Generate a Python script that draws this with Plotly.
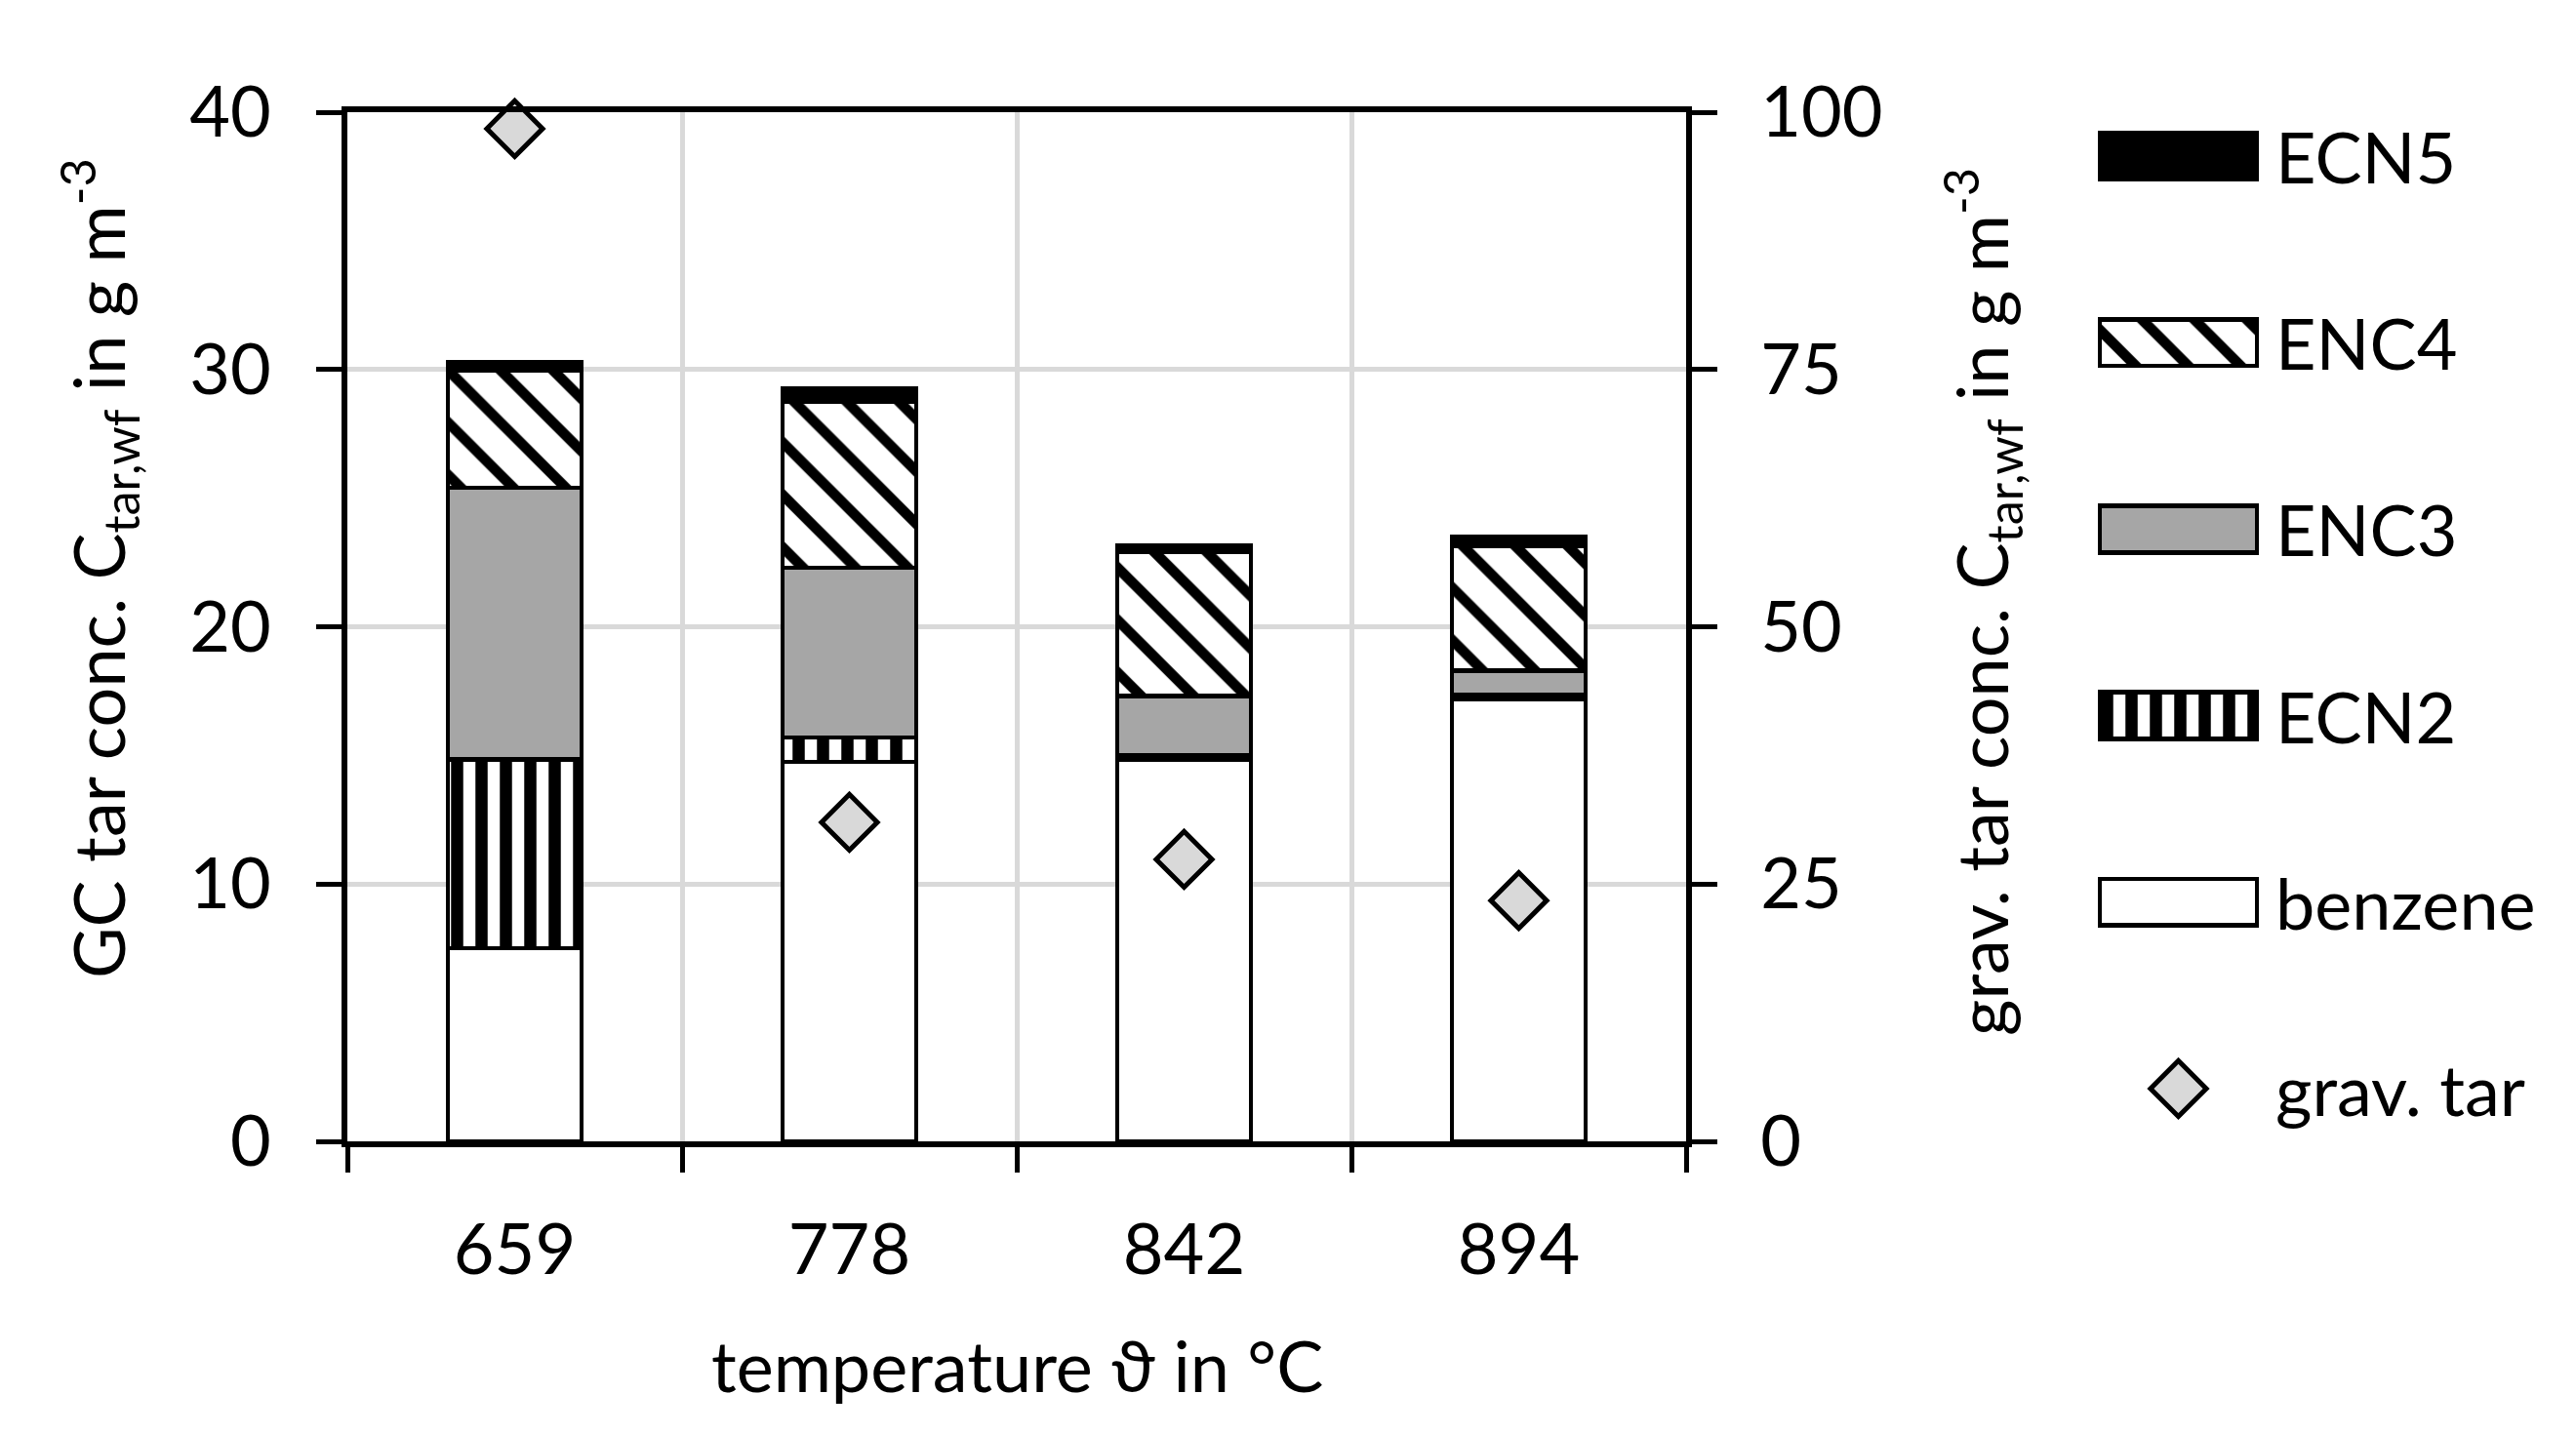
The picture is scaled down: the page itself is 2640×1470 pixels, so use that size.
"""Stacked GC tar fractions per temperature, with gravimetric tar on a second axis."""
import plotly.graph_objects as go

# data
temperatures = ["659", "778", "842", "894"]
benzene = [7.5, 14.75, 14.85, 17.2]
ecn2 = [7.35, 0.95, 0.15, 0.15]
enc3 = [10.55, 6.6, 2.3, 0.95]
enc4 = [4.55, 6.45, 5.6, 4.85]
ecn5 = [0.35, 0.5, 0.25, 0.35]
grav_tar = [98.4, 31.0, 27.4, 23.4]

gc_ticks = [0, 10, 20, 30, 40]
grav_ticks = [0, 25, 50, 75, 100]
legend_order = ["ECN5", "ENC4", "ENC3", "ECN2", "benzene", "grav. tar"]

W, H = 2640, 1470
FONT = dict(family="Lato, 'Noto Sans', sans-serif", size=72, color="black")
OUTLINE = dict(color="black", width=4.5)


def px_x(x):
    return x / W


def px_y(y):
    return 1 - y / H


styles = {
    "benzene": dict(color="white", line=OUTLINE),
    "ECN2": dict(color="white", line=OUTLINE,
                 pattern=dict(shape="|", size=25, solidity=0.5,
                              fgcolor="black", bgcolor="white")),
    "ENC3": dict(color="#a6a6a6", line=OUTLINE),
    "ENC4": dict(color="white", line=OUTLINE,
                 pattern=dict(shape="\\", size=38, solidity=0.28,
                              fgcolor="black", bgcolor="white")),
    "ECN5": dict(color="black", line=OUTLINE),
}
diamond = dict(symbol="diamond", size=44, color="#d9d9d9",
               line=dict(color="black", width=5))

stack = [("benzene", benzene), ("ECN2", ecn2), ("ENC3", enc3),
         ("ENC4", enc4), ("ECN5", ecn5)]

fig = go.Figure()

for name, values in stack:
    fig.add_trace(go.Bar(
        x=temperatures, y=values, name=name, width=0.4,
        marker=styles[name], xaxis="x", yaxis="y", showlegend=False))

fig.add_trace(go.Scatter(
    x=temperatures, y=grav_tar, name="grav. tar", mode="markers",
    marker=diamond, xaxis="x", yaxis="y2", cliponaxis=False,
    showlegend=False))

# hand-made legend: wide swatches on their own small axis pair
legend_cats = legend_order[::-1]
for name in legend_order[:-1]:
    fig.add_trace(go.Bar(
        x=[1], y=[name], base=0, orientation="h", width=0.25,
        marker=styles[name], xaxis="x2", yaxis="y4", showlegend=False))
fig.add_trace(go.Scatter(
    x=[0.5], y=["grav. tar"], mode="markers", marker=diamond,
    xaxis="x2", yaxis="y4", cliponaxis=False, showlegend=False))

annotations = []
for name in legend_order:
    annotations.append(dict(
        text=name, xref="paper", yref="y4", x=px_x(2322),
        y=legend_cats.index(name), xanchor="left", yanchor="middle",
        showarrow=False, font=FONT))

annotations.append(dict(
    text="temperature ϑ in °C", xref="paper", yref="paper",
    x=px_x(1034), y=px_y(1391), xanchor="center", yanchor="middle",
    showarrow=False, font=FONT))
annotations.append(dict(
    text="GC tar conc. C<sub>tar,wf</sub> in g m<sup>-3</sup>",
    xref="paper", yref="paper", x=px_x(93), y=px_y(575), textangle=-90,
    xanchor="center", yanchor="middle", showarrow=False, font=FONT))
annotations.append(dict(
    text="grav. tar conc. C<sub>tar,wf</sub> in g m<sup>-3</sup>",
    xref="paper", yref="paper", x=px_x(2023), y=px_y(609), textangle=-90,
    xanchor="center", yanchor="middle", showarrow=False, font=FONT))

layout = dict(
    template="none",
    width=W, height=H,
    margin=dict(l=0, r=0, t=0, b=0),
    paper_bgcolor="white", plot_bgcolor="white",
    barmode="stack",
    font=FONT,
    showlegend=False,
    xaxis=dict(
        domain=[px_x(348), px_x(1720)], anchor="y",
        type="category", categoryorder="array", categoryarray=temperatures,
        tickson="boundaries", ticks="outside", ticklen=26, tickwidth=4.5,
        tickcolor="black", showline=True, linewidth=5.5, linecolor="black",
        mirror=True, showgrid=True, gridcolor="#d9d9d9", gridwidth=4.5,
        tickfont=FONT, ticklabelstandoff=44, automargin=False),
    yaxis=dict(
        domain=[px_y(1162), px_y(107)], anchor="x", range=[0, 40],
        tickvals=gc_ticks, ticks="outside", ticklen=26, tickwidth=4.5,
        tickcolor="black", showline=True, linewidth=5.5, linecolor="black",
        showgrid=True, gridcolor="#d9d9d9", gridwidth=4.5, zeroline=False,
        tickfont=FONT, ticklabelstandoff=32, automargin=False),
    yaxis2=dict(
        overlaying="y", side="right", anchor="x", range=[0, 100],
        tickvals=grav_ticks, ticks="outside", ticklen=26, tickwidth=4.5,
        tickcolor="black", showline=True, linewidth=5.5, linecolor="black",
        showgrid=False, zeroline=False, tickfont=FONT,
        ticklabelstandoff=30, automargin=False),
    yaxis3=dict(
        overlaying="y", side="left", anchor="x", range=[0, 40],
        tickvals=gc_ticks, ticks="inside", ticklen=26, tickwidth=4.5,
        tickcolor="black", showticklabels=False, showline=False,
        showgrid=False, zeroline=False, automargin=False),
    xaxis2=dict(
        domain=[px_x(2139), px_x(2310)], anchor="y4", range=[-0.03, 1.03],
        visible=False, automargin=False),
    yaxis4=dict(
        domain=[px_y(1203.5), px_y(56.5)], anchor="x2", type="category",
        categoryorder="array", categoryarray=legend_cats,
        range=[-0.5, 5.5], visible=False, automargin=False),
    annotations=annotations,
)

fig.update_layout(layout)
fig.write_html("out.html")
